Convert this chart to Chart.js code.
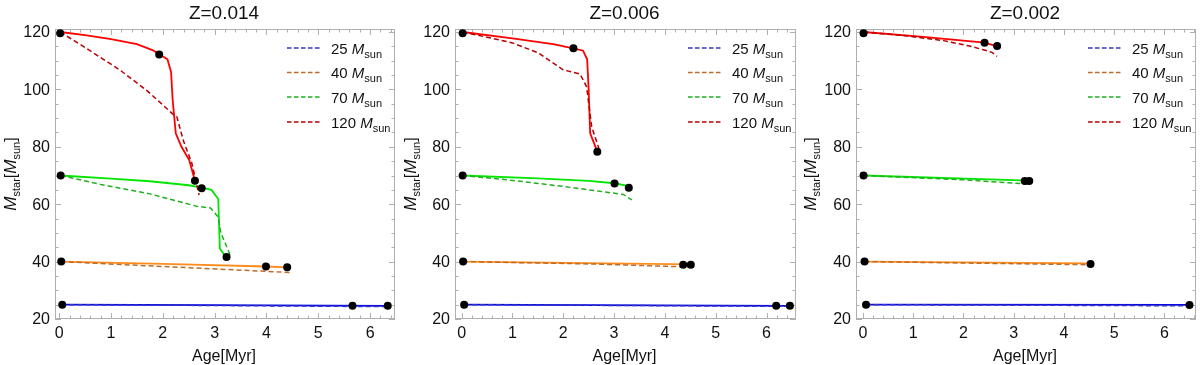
<!DOCTYPE html>
<html><head><meta charset="utf-8">
<script src="https://cdn.jsdelivr.net/npm/chart.js@4"></script>
<style>
html,body{margin:0;padding:0;background:#fff;}
#wrap{position:relative;width:1200px;height:365px;overflow:hidden;}
.panel{position:absolute;top:0;width:400px;height:365px;}
</style></head><body>
<div id="wrap">
<div class="panel" style="left:0px"><canvas id="c0" width="400" height="365"></canvas></div>
<div class="panel" style="left:400px"><canvas id="c1" width="400" height="365"></canvas></div>
<div class="panel" style="left:800px"><canvas id="c2" width="400" height="365"></canvas></div>
</div>
<script>
// ---- tick labels / categories ----
const xTickValues = [0,1,2,3,4,5,6];
const yTickValues = [20,40,60,80,100,120];
const panelTitles = ['Z=0.014','Z=0.006','Z=0.002'];
const massLabels = ['25','40','70','120'];

// ---- Z = 0.014 : [age Myr, mass Msun] ----
const z014_m25_solid  = [[0.05,25.0],[3.0,24.8],[6.34,24.6]];
const z014_m25_dashed = [[0.05,25.0],[3.0,24.7],[6.34,24.3]];
const z014_m25_dots   = [[0.06,25.0],[5.66,24.6],[6.34,24.6]];
const z014_m40_solid  = [[0.03,40.0],[2.0,39.2],[3.99,38.3],[4.40,38.0]];
const z014_m40_dashed = [[0.03,40.0],[2.0,38.3],[4.45,36.2]];
const z014_m40_dots   = [[0.04,40.0],[3.99,38.3],[4.40,38.0]];
const z014_m70_solid  = [[0.03,70.0],[1.0,68.9],[1.75,68.0],[2.5,66.6],[2.75,65.8],[2.94,65.0],[3.07,61.8],[3.10,44.6],[3.20,42.0],[3.23,41.6]];
const z014_m70_dashed = [[0.03,70.0],[0.8,66.9],[1.75,63.6],[2.65,59.3],[2.92,58.7],[3.07,55.5],[3.12,50.0],[3.30,42.3]];
const z014_m70_dots   = [[0.03,70.0],[2.75,65.6],[3.23,41.6]];
const z014_m120_solid = [[0.02,120.0],[0.5,118.9],[1.0,117.5],[1.5,115.8],[1.8,113.7],[1.93,112.3],[2.09,110.5],[2.16,106.0],[2.19,96.3],[2.25,84.7],[2.36,80.0],[2.51,75.4],[2.62,68.2]];
const z014_m120_dashed= [[0.02,120.0],[0.5,114.6],[1.17,106.8],[1.7,99.5],[2.2,91.3],[2.27,90.5],[2.4,82.0],[2.56,74.3],[2.70,63.2]];
const z014_m120_dots  = [[0.02,119.6],[1.93,112.2],[2.62,68.2]];

// ---- Z = 0.006 ----
const z006_m25_solid  = [[0.05,25.0],[6.46,24.6]];
const z006_m25_dashed = [[0.05,25.0],[6.46,24.4]];
const z006_m25_dots   = [[0.05,25.0],[6.19,24.6],[6.46,24.6]];
const z006_m40_solid  = [[0.03,40.0],[4.51,39.0]];
const z006_m40_dashed = [[0.03,40.0],[2.5,39.2],[4.55,38.1]];
const z006_m40_dots   = [[0.03,40.0],[4.36,38.9],[4.51,38.9]];
const z006_m70_solid  = [[0.01,70.0],[1.5,69.0],[2.5,68.1],[3.01,67.3],[3.29,66.3]];
const z006_m70_dashed = [[0.01,70.0],[1.0,68.3],[2.0,66.2],[3.18,63.4],[3.35,61.5]];
const z006_m70_dots   = [[0.02,70.0],[3.01,67.2],[3.29,65.7]];
const z006_m120_solid = [[0.02,120.0],[1.0,117.8],[1.8,115.8],[2.2,114.3],[2.39,113.5],[2.47,110.5],[2.50,100.0],[2.53,84.7],[2.67,78.3]];
const z006_m120_dashed= [[0.02,120.0],[0.5,118.2],[1.0,116.2],[1.5,112.8],[2.0,106.8],[2.33,105.4],[2.46,100.9],[2.56,87.0],[2.70,79.5]];
const z006_m120_dots  = [[0.02,119.6],[2.2,114.3],[2.67,78.3]];

// ---- Z = 0.002 ----
const z002_m25_solid  = [[0.06,25.0],[6.5,24.9]];
const z002_m25_dashed = [[0.06,25.0],[6.5,24.6]];
const z002_m25_dots   = [[0.06,25.0],[6.5,24.9]];
const z002_m40_solid  = [[0.03,40.0],[4.53,39.4]];
const z002_m40_dashed = [[0.03,40.0],[4.53,38.9]];
const z002_m40_dots   = [[0.03,40.0],[4.53,39.2]];
const z002_m70_solid  = [[0.01,70.0],[3.31,68.2]];
const z002_m70_dashed = [[0.01,70.0],[2.0,68.5],[3.29,67.0]];
const z002_m70_dots   = [[0.01,70.0],[3.22,68.1],[3.31,68.1]];
const z002_m120_solid = [[0.01,120.0],[1.2,118.3],[2.42,116.3],[2.67,115.0]];
const z002_m120_dashed= [[0.01,120.0],[0.8,118.8],[1.6,117.0],[2.1,115.2],[2.4,113.8],[2.57,112.9],[2.67,111.5]];
const z002_m120_dots  = [[0.01,119.6],[2.42,116.3],[2.67,115.1]];

// ---- assembly ----
const FONT = '"Liberation Sans", Arial, Helvetica, sans-serif';
const solidColors  = ['#0a0ae0','#ff8c1a','#00e600','#ff0000'];
const dashedColors = ['#3232c8','#bf6a28','#22b022','#b80000'];

const panels = [
  {title:panelTitles[0], xMin:-0.08, xMax:6.48, left:55, right:5,
   solid:[z014_m25_solid,z014_m40_solid,z014_m70_solid,z014_m120_solid],
   dashed:[z014_m25_dashed,z014_m40_dashed,z014_m70_dashed,z014_m120_dashed],
   dots:[z014_m25_dots,z014_m40_dots,z014_m70_dots,z014_m120_dots]},
  {title:panelTitles[1], xMin:-0.13, xMax:6.58, left:55, right:4,
   solid:[z006_m25_solid,z006_m40_solid,z006_m70_solid,z006_m120_solid],
   dashed:[z006_m25_dashed,z006_m40_dashed,z006_m70_dashed,z006_m120_dashed],
   dots:[z006_m25_dots,z006_m40_dots,z006_m70_dots,z006_m120_dots]},
  {title:panelTitles[2], xMin:-0.14, xMax:6.63, left:56, right:1,
   solid:[z002_m25_solid,z002_m40_solid,z002_m70_solid,z002_m120_solid],
   dashed:[z002_m25_dashed,z002_m40_dashed,z002_m70_dashed,z002_m120_dashed],
   dots:[z002_m25_dots,z002_m40_dots,z002_m70_dots,z002_m120_dots]}
];

const toXY = a => a.map(p => ({x:p[0], y:p[1]}));

function rich(ctx, segs, x, y, align){
  let w = 0;
  segs.forEach(s => { ctx.font = s.f; s.w = ctx.measureText(s.t).width; w += s.w; });
  let cx = align === 'center' ? x - w/2 : x;
  ctx.textAlign = 'left';
  segs.forEach(s => { ctx.font = s.f; ctx.fillText(s.t, cx, y + (s.dy||0)); cx += s.w; });
}

const framePlugin = {
  id:'frameTicks',
  beforeDatasetsDraw(chart){
    const {ctx, chartArea:a, scales:{x, y}} = chart;
    ctx.save();
    ctx.strokeStyle = '#b0b0b0';
    ctx.lineWidth = 1;
    ctx.strokeRect(a.left+0.5, a.top+0.5, a.right-a.left-1, a.bottom-a.top-1);
    ctx.beginPath();
    for (let i = Math.ceil(x.min/0.2); i*0.2 <= x.max; i++){
      const v = i*0.2; const major = (i % 5 === 0);
      const L = major ? 6 : 3.5;
      const px = Math.round(x.getPixelForValue(v)) + 0.5;
      ctx.moveTo(px, a.bottom); ctx.lineTo(px, a.bottom - L);
      ctx.moveTo(px, a.top); ctx.lineTo(px, a.top + L);
    }
    for (let v = 20; v <= y.max; v += 5){
      const major = (v % 20 === 0);
      const L = major ? 6 : 3.5;
      const py = Math.round(y.getPixelForValue(v)) + 0.5;
      ctx.moveTo(a.left, py); ctx.lineTo(a.left + L, py);
      ctx.moveTo(a.right, py); ctx.lineTo(a.right - L, py);
    }
    ctx.stroke();
    ctx.restore();
    // tick labels from the scales
    ctx.save();
    ctx.fillStyle = '#111';
    ctx.font = '16px ' + FONT;
    ctx.textBaseline = 'middle';
    ctx.textAlign = 'center';
    xTickValues.forEach(v => ctx.fillText(String(v), x.getPixelForValue(v), 334));
    ctx.textAlign = 'right';
    yTickValues.forEach(v => ctx.fillText(String(v), a.left - 5, y.getPixelForValue(v) + 1));
    ctx.restore();
  }
};

const textPlugin = {
  id:'texts',
  afterDraw(chart){
    const {ctx, chartArea:a} = chart;
    const p = chart.options.plugins.texts;
    ctx.save();
    ctx.fillStyle = '#111';
    ctx.textBaseline = 'alphabetic';
    const cx = (a.left + a.right)/2;
    ctx.font = '19px ' + FONT; ctx.textAlign = 'center';
    ctx.fillText(p.title, cx - 1, 19);
    ctx.font = '16px ' + FONT;
    ctx.fillText('Age[Myr]', cx - 1, 361);
    // y title
    ctx.save();
    ctx.translate(16, (a.top + a.bottom)/2);
    ctx.rotate(-Math.PI/2);
    rich(ctx, [
      {t:'M', f:'italic 17px ' + FONT},
      {t:'star', f:'11px ' + FONT, dy:4},
      {t:'[', f:'16px ' + FONT},
      {t:'M', f:'italic 17px ' + FONT},
      {t:'sun', f:'11px ' + FONT, dy:4},
      {t:']', f:'16px ' + FONT}
    ], 0, 0, 'center');
    ctx.restore();
    // legend
    const rows = [48, 72.5, 97, 122];
    massLabels.forEach((m, i) => {
      const yy = rows[i];
      ctx.save();
      ctx.strokeStyle = dashedColors[i];
      ctx.lineWidth = 1.5;
      ctx.setLineDash([4.5, 2.5]);
      ctx.beginPath();
      ctx.moveTo(a.right - 108, yy); ctx.lineTo(a.right - 74, yy);
      ctx.stroke();
      ctx.restore();
      rich(ctx, [
        {t:m + ' ', f:'15px ' + FONT},
        {t:'M', f:'italic 15px ' + FONT},
        {t:'sun', f:'11px ' + FONT, dy:4}
      ], a.right - 64, yy + 5.5, 'left');
    });
    ctx.restore();
  }
};

panels.forEach((pn, k) => {
  const datasets = [];
  for (let i = 0; i < 4; i++){
    datasets.push({label:massLabels[i] + ' solid', data:toXY(pn.solid[i]), showLine:true,
      borderColor:solidColors[i], borderWidth:1.8, pointRadius:0, order:2, tension:0});
    datasets.push({label:massLabels[i] + ' dashed', data:toXY(pn.dashed[i]), showLine:true,
      borderColor:dashedColors[i], borderWidth:1.5, borderDash:[5,3], pointRadius:0, order:1, tension:0});
    datasets.push({label:massLabels[i] + ' dots', data:toXY(pn.dots[i]), showLine:false,
      pointRadius:4, pointBackgroundColor:'#000', pointBorderColor:'#000', pointBorderWidth:0, order:0});
  }
  new Chart(document.getElementById('c' + k), {
    type:'scatter',
    data:{datasets},
    options:{
      responsive:false, animation:false, devicePixelRatio:1,
      layout:{padding:{top:29, right:pn.right, left:0, bottom:0}},
      plugins:{legend:{display:false}, tooltip:{enabled:false}, title:{display:false},
        texts:{title:pn.title}},
      scales:{
        x:{type:'linear', min:pn.xMin, max:pn.xMax,
          afterFit:s => { s.height = 46; },
          grid:{display:false}, border:{display:false},
          ticks:{display:false}},
        y:{type:'linear', min:20, max:121.05,
          afterFit:s => { s.width = pn.left; },
          grid:{display:false}, border:{display:false},
          ticks:{display:false}}
      }
    },
    plugins:[framePlugin, textPlugin]
  });
});
</script>
</body></html>
